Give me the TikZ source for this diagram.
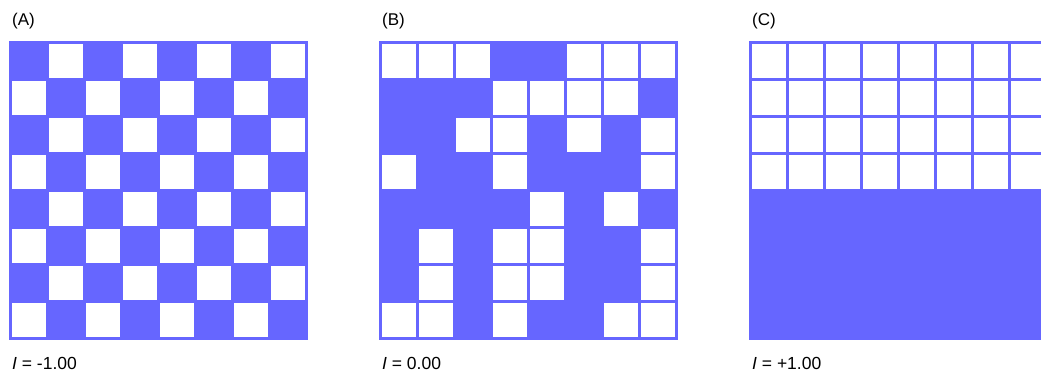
\documentclass[tikz,border=0pt]{standalone}
\usepackage{fontspec}
\setmainfont{Liberation Sans}
\definecolor{gridblue}{HTML}{6666FF}
\begin{document}
\begin{tikzpicture}[x=1pt,y=-1pt,
  gridline/.style={draw=gridblue,line width=3pt,line cap=rect},
  cellfill/.style={fill=gridblue},
  paneltitle/.style={anchor=base west,inner sep=0pt,font=\fontsize{17}{20}\selectfont},
  panelvalue/.style={anchor=base west,inner sep=0pt,font=\fontsize{17.5}{20}\selectfont}]
\useasboundingbox (0,0) rectangle (1041,374);
\clip (0,0) rectangle (1041,374);
\def\cs{37}
% ---------- Panel A : checkerboard ----------
\def\xa{10.8}\def\ya{42.5}
\foreach \r in {0,...,7}{
  \foreach \c in {0,...,7}{
    \ifodd\numexpr\r+\c\relax\else
      \fill[cellfill] (\xa+\cs*\c,\ya+\cs*\r) rectangle (\xa+\cs*\c+\cs,\ya+\cs*\r+\cs);
    \fi
  }
}
% ---------- Panel B : random ----------
\def\xb{380.8}
\foreach \r/\row in {0/{0,0,0,1,1,0,0,0},1/{1,1,1,0,0,0,0,1},2/{1,1,0,0,1,0,1,0},3/{0,1,1,0,1,1,1,0},4/{1,1,1,1,0,1,0,1},5/{1,0,1,0,0,1,1,0},6/{1,0,1,0,0,1,1,0},7/{0,0,1,0,1,1,0,0}}{
  \foreach \v [count=\c from 0] in \row {
    \ifnum\v=1
      \fill[cellfill] (\xb+\cs*\c,\ya+\cs*\r) rectangle (\xb+\cs*\c+\cs,\ya+\cs*\r+\cs);
    \fi
  }
}
% ---------- Panel C : segregated ----------
\def\xc{750.8}
\fill[cellfill] (\xc,\ya+\cs*4) rectangle (\xc+\cs*8,\ya+\cs*8);
% ---------- grid lines ----------
\foreach \x in {\xa,\xb,\xc}{
  \foreach \i in {0,...,8}{
    \draw[gridline] (\x+\cs*\i,\ya) -- (\x+\cs*\i,\ya+\cs*8);
    \draw[gridline] (\x,\ya+\cs*\i) -- (\x+\cs*8,\ya+\cs*\i);
  }
}
% ---------- labels ----------
\node[paneltitle] (titleA) at (12,26) {(A)};
\node[paneltitle] (titleB) at (382,26) {(B)};
\node[paneltitle] (titleC) at (752,26) {(C)};
\node[panelvalue] (valA) at (12,369.5) {\textit{I} = -1.00};
\node[panelvalue] (valB) at (382,369.5) {\textit{I} = 0.00};
\node[panelvalue] (valC) at (752,369.5) {\textit{I} = +1.00};
\end{tikzpicture}
\end{document}
